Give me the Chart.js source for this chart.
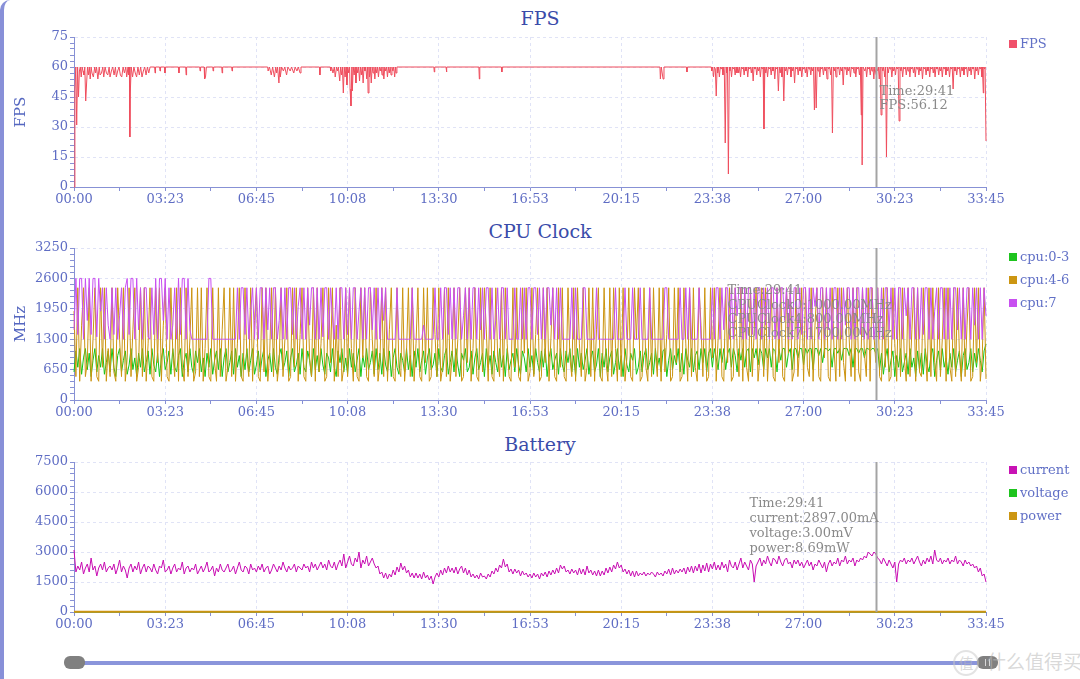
<!DOCTYPE html>
<html>
<head>
<meta charset="UTF-8">
<title>FPS / CPU Clock / Battery</title>
<script src="https://cdn.jsdelivr.net/npm/chart.js"></script>
<style>
    body { margin: 0; background: #fff; }
    #page { position: relative; width: 1080px; height: 679px; overflow: hidden; background: #fff; }
    #edge {
        position: absolute; left: 0; top: 0; width: 1080px; height: 679px;
        box-sizing: border-box; border-left: 4px solid #8890d8; border-top-left-radius: 10px;
    }
    canvas.panel { position: absolute; left: 0; }
    .title {
        position: absolute; left: 0; width: 1080px; text-align: center;
        font: 19px "DejaVu Serif", serif; line-height: 22px; color: #3a4caa;
    }
    .legend { position: absolute; left: 1009px; font: 13px "DejaVu Serif", serif; color: #6170c6; }
    .legend div { height: 23px; line-height: 14px; white-space: nowrap; }
    .legend i { display: inline-block; width: 8px; height: 8px; margin-right: 3px; vertical-align: 0px; }
    #track { position: absolute; left: 75px; top: 661px; width: 910px; height: 4px; background: #8a95db; }
    .handle { position: absolute; top: 656px; width: 21px; height: 13px; border-radius: 6px; background: #808080; }
    .handle b { position: absolute; top: 3px; width: 1px; height: 7px; background: #d8d8d8; }
    #mark { position: absolute; left: 953px; top: 647px; font: 19px "Noto Sans CJK SC", sans-serif; color: rgba(185,185,185,0.55); white-space: nowrap; }
    #mark span { display: inline-block; width: 22px; height: 22px; line-height: 22px; border: 2px solid rgba(200,200,200,0.5); border-radius: 50%; text-align: center; font-size: 15px; margin-right: 8px; }
</style>
</head>
<body>
<div id="page">
    <div id="edge"></div>

    <div class="title" style="top:7px">FPS</div>
    <div class="title" style="top:220px">CPU Clock</div>
    <div class="title" style="top:433px">Battery</div>

    <canvas class="panel" id="fpsChart" width="1080" height="213" style="top:0px"></canvas>
    <canvas class="panel" id="cpuChart" width="1080" height="213" style="top:211px"></canvas>
    <canvas class="panel" id="batteryChart" width="1080" height="213" style="top:425px"></canvas>

    <div class="legend" style="top:37px">
        <div><i style="background:#f0506a"></i>FPS</div>
    </div>
    <div class="legend" style="top:250px">
        <div><i style="background:#1ec41e"></i>cpu:0-3</div>
        <div><i style="background:#cc9612"></i>cpu:4-6</div>
        <div><i style="background:#c850f0"></i>cpu:7</div>
    </div>
    <div class="legend" style="top:463px">
        <div><i style="background:#c812b4"></i>current</div>
        <div><i style="background:#1ec41e"></i>voltage</div>
        <div><i style="background:#cc9612"></i>power</div>
    </div>

    <div id="track"></div>
    <div class="handle" style="left:64px"></div>
    <div class="handle" style="left:977px"><b style="left:8px"></b><b style="left:12px"></b></div>
    <div id="mark"><span>值</span>什么值得买</div>
</div>

<script>
    // ---- data ----
    const xTickLabels = ['00:00', '03:23', '06:45', '10:08', '13:30', '16:53', '20:15', '23:38', '27:00', '30:23', '33:45'];
    const fpsTicks = [0, 15, 30, 45, 60, 75];
    const cpuTicks = [0, 650, 1300, 1950, 2600, 3250];
    const batteryTicks = [0, 1500, 3000, 4500, 6000, 7500];

    const cursorTime = '29:41';
    const fpsReadout = ['Time:29:41', 'FPS:56.12'];
    const cpuReadout = ['Time:29:41', 'CPUClock0:1000.00MHz', 'CPUClock4:800.00MHz', 'CPUClock7:1700.00MHz'];
    const batteryReadout = ['Time:29:41', 'current:2897.00mA', 'voltage:3.00mV', 'power:8.69mW'];

    // [seconds, fps]
    const fpsSamples = [
        [0,0],[2,48],[4,60],[6,31],[8,60],[10,45],[12,58],[14,60],[16,55],[18,60],[20,58],[22,56],[24,60],[26,43],[28,52],[30,60],
        [32,56],[34,60],[36,54],[38,60],[40,57],[43,55],[46,60],[48,57],[50,60],[53,54],[56,60],[58,56],[61,57],[64,60],[66,55],[69,60],
        [72,57],[75,56],[78,60],[80,55],[83,58],[86,60],[89,56],[92,60],[94,55],[97,58],[100,60],[103,56],[106,55],[109,60],[112,57],
        [115,60],[117,55],[120,60],[121,56],[123,60],[124,25],[125,47],[127,60],[130,55],[133,60],[136,57],[139,55],[142,60],[145,56],
        [148,60],[151,55],[154,58],[157,60],[160,56],[163,60],[166,57],[169,60],
        [179,60],[180,57],[181,60],[190,60],[191,58],[192,60],[201,60],[202,57],[203,60],[232,60],[233,57],[234,60],[248,60],[249,56],
        [250,60],[279,60],[280,58],[281,60],[289,60],[290,54],[292,55],[294,60],[308,60],[309,58],[310,60],[328,60],[329,57],[330,60],
        [350,60],[351,58],[352,60],
        [430,60],[431,58],[434,60],[438,56],[441,60],[445,55],[448,60],[450,57],[452,60],[455,52],[457,60],[458,55],[461,60],[465,58],
        [468,60],[472,56],[475,60],[480,58],[483,60],[488,57],[491,60],[495,58],[498,60],[502,57],[504,60],
        [545,60],[546,56],[547,60],[569,60],[570,58],[572,60],[575,57],[578,60],[580,55],[583,60],[585,58],[587,60],[590,53],[592,60],
        [594,56],[596,60],[598,47],[600,60],[602,55],[604,60],[606,51],[608,60],[610,57],[612,60],[613,49],[615,40.5],[617,60],[618,48],
        [620,60],[622,56],[624,60],[626,52],[628,60],[630,57],[632,60],[634,53],[636,60],[638,56],[640,60],[642,52],[644,60],[646,58],
        [648,60],[650,54],[652,60],[653,47],[655,60],[656,55],[658,60],[660,52],[662,60],[664,57],[666,60],[668,54],[670,60],[672,57],
        [674,60],[676,55],[678,60],[680,58],[682,60],[684,56],[686,60],[688,54],[690,60],[692,58],[694,60],[696,55],[698,60],[700,57],
        [702,60],[704,56],[706,60],[708,58],[710,60],[712,55],[714,60],[715,57],[717,60],
        [799,60],[800,57.5],[801,60],[826,60],[827,57.5],[828,60],[899,60],[900,54],[901,60],[949,60],[950,57.5],[951,60],
        [1301,60],[1302,54],[1304,60],[1308,54],[1310,60],[1360,60],[1361,57.5],[1362,60],
        [1415,60],[1416,58],[1418,60],[1420,55],[1422,60],[1424,59],[1426,45.5],[1428,60],[1429,57],[1431,60],[1433,55],[1435,60],
        [1437,59],[1439,60],[1441,56],[1443,60],[1444,58],[1446,22],[1448,60],[1449,57],[1451,60],[1453,6.5],[1455,60],
        [1456,58],[1458,60],[1460,55],[1462,60],[1464,59],[1466,60],[1468,56],[1470,60],[1472,57],[1474,60],[1476,57],[1478,60],
        [1480,55],[1482,60],[1484,59],[1486,60],[1488,56],[1490,60],[1492,58],[1494,60],[1496,55],[1498,60],[1500,59],[1502,60],
        [1504,57],[1506,60],[1508,53],[1510,60],[1512,59],[1514,60],[1516,56],[1518,60],[1520,58],[1522,60],[1524,55],[1526,60],
        [1528,59],[1530,60],[1532,29],[1534,60],[1536,57],[1538,60],[1540,55],[1542,60],[1544,59],[1546,60],[1548,56],[1550,60],
        [1552,58],[1554,60],[1556,54],[1558,60],[1560,59],[1562,60],[1564,48],[1566,60],[1568,57],[1570,60],[1572,55],[1574,60],
        [1576,43],[1578,60],[1580,58],[1582,60],[1584,56],[1586,60],[1588,59],[1590,60],[1592,55],[1594,60],[1596,58],[1598,60],
        [1600,52],[1602,60],[1604,59],[1606,60],[1608,56],[1610,60],[1612,58],[1614,60],[1616,55],[1618,60],[1620,59],[1622,60],
        [1624,57],[1626,60],[1628,55],[1630,60],[1632,59],[1634,60],[1636,56],[1638,60],[1640,58],[1642,60],[1644,38.5],[1646,60],
        [1648,39.5],[1650,60],[1652,58],[1654,60],[1656,55],[1658,60],[1660,59],[1662,60],[1664,56],[1666,60],[1668,58],[1670,60],
        [1672,54],[1674,60],[1676,59],[1678,60],[1680,56],[1682,60],[1684,27],[1686,60],[1688,58],[1690,60],[1692,55],[1694,60],
        [1696,59],[1698,60],[1700,56],[1702,60],[1704,58],[1706,60],[1708,51],[1710,60],[1712,59],[1714,60],[1716,56],[1718,60],
        [1720,58],[1722,60],[1724,55],[1726,60],[1728,59],[1730,60],[1732,57],[1734,60],[1736,55],[1738,60],[1740,59],[1742,60],
        [1744,56],[1746,60],[1748,36],[1749,60],[1750,11],[1752,60],[1756,58],[1758,60],[1760,55],[1762,60],[1764,59],[1766,60],
        [1768,56],[1770,60],[1772,58],[1774,60],[1776,54],[1778,60],[1781,56.12],[1782,60],[1784,58],[1786,60],[1788,54],[1790,60],
        [1792,36],[1794,60],[1796,58],[1798,60],[1800,55],[1802,60],[1804,15],[1806,60],[1808,57],[1810,60],[1812,59],[1814,60],
        [1816,55],[1818,60],[1820,58],[1822,60],[1824,56],[1826,60],[1828,59],[1830,60],[1832,33],[1834,60],[1836,58],[1838,60],
        [1840,55],[1842,60],[1844,59],[1846,60],[1848,56],[1850,60],[1852,58],[1854,60],[1856,55],[1858,60],[1860,59],[1862,60],
        [1864,57],[1866,60],[1868,55],[1870,60],[1872,59],[1874,60],[1876,56],[1878,60],[1880,58],[1882,60],[1884,54],[1886,60],
        [1888,59],[1890,60],[1892,56],[1894,60],[1896,58],[1898,60],[1900,55],[1902,60],[1904,59],[1906,60],[1908,57],[1910,60],
        [1912,55],[1914,60],[1916,59],[1918,60],[1920,56],[1922,60],[1924,58],[1926,60],[1928,55],[1930,60],[1932,59],[1934,60],
        [1936,56],[1938,60],[1940,58],[1942,60],[1944,55],[1946,60],[1948,59],[1950,60],[1952,49],[1954,60],[1956,58],[1958,60],
        [1960,56],[1962,60],[1964,59],[1966,60],[1968,55],[1970,60],[1972,58],[1974,60],[1976,56],[1978,60],[1980,59],[1982,60],
        [1984,55],[1986,60],[1988,58],[1990,60],[1992,56],[1994,60],[1996,59],[1998,60],[2000,54],[2002,60],[2004,58],[2006,60],
        [2008,56],[2010,60],[2012,59],[2014,60],[2016,55],[2017,60],[2019,47],[2020,60],[2022,59],[2023,60],[2025,23]
    ];

    // CPU clocks (MHz), evenly spaced over the whole run
    const cpu03 = [
        600,1050,700,1100,550,900,1100,650,1000,500,850,1100,600,950,700,1100,550,800,1050,600,
        1100,700,500,950,1100,600,850,1050,550,750,1100,650,900,500,1000,700,1100,600,800,1050,
        550,1100,750,600,1000,500,900,1100,650,800,1050,550,1100,700,600,950,1100,500,850,1000,
        600,1100,700,550,1050,800,1100,600,900,500,1000,700,1100,550,850,1050,650,1100,500,900,
        1100,600,800,1050,550,1100,700,950,500,1000,650,1100,600,850,1100,550,750,1050,600,900,
        1100,500,850,1000,600,1100,700,550,950,1100,650,800,1050,500,900,1100,600,750,1000,550,
        1100,700,600,1050,850,500,1100,650,950,600,1100,750,550,1000,900,600,1100,700,500,1050,
        800,1100,600,900,550,1100,700,1000,600,850,1100,500,950,700,1100,650,800,1050,550,1100,
        650,1000,550,1100,750,600,1050,500,900,1100,700,550,1000,850,600,1100,650,950,500,1050,
        700,1100,600,850,1050,550,900,1100,650,750,1000,500,1100,700,600,950,1100,550,800,1050,
        600,1100,750,500,1000,850,1100,600,700,1050,550,900,1100,650,800,1000,500,1100,700,950,
        550,1050,800,600,1100,700,950,500,1100,650,850,1000,600,1100,750,550,1050,900,600,1100,
        700,950,550,1100,800,600,1050,700,1100,500,900,1100,650,850,1000,550,1100,750,600,1050,
        800,1100,600,950,500,1100,700,1000,650,850,1100,550,900,1050,600,750,1100,500,1000,700,
        1100,600,900,1050,550,800,1100,650,950,500,1100,750,600,1000,850,1100,550,700,1050,600,
        950,1100,650,800,1000,550,1100,700,900,600,1050,1100,500,850,1100,650,950,750,1100,600,
        1000,550,1100,850,700,1100,600,950,1050,650,1100,800,1100,600,1000,1100,700,1100,900,650,
        1100,800,1100,650,1000,1100,700,1100,950,600,1100,850,1100,700,1050,1100,600,1100,900,1100,
        750,1100,1000,650,1100,900,1100,700,1100,1050,600,1100,850,1100,1100,700,1000,1100,650,1100,
        1100,900,1100,1100,750,1100,1000,1100,1100,650,1100,1100,950,1100,800,1100,1100,1050,1100,700,
        1100,1100,1000,1100,850,1100,1100,1100,950,1100,700,1100,1100,1000,1100,1100,900,1100,1100,1050,
        1100,1100,1000,1100,650,1000,550,900,1100,600,850,1050,500,950,700,1100,600,800,1000,550,
        1100,700,900,500,1050,650,1000,550,1100,750,600,950,1100,500,850,1050,650,1100,700,900,
        550,1000,700,1100,600,850,1050,500,950,1100,650,800,1100,600,1000,700,1100,850,600,1050,1200
    ];
    const cpu46 = [
        1900,500,2400,400,1600,2400,500,800,2400,400,1300,2400,500,400,2400,700,2400,400,1100,500,
        2400,600,400,2400,1300,500,2400,400,900,2400,500,1500,2400,400,700,2400,500,2400,400,1200,
        2400,500,400,2400,800,2400,400,1600,2400,500,400,2400,1000,500,2400,400,2400,700,400,2400,
        500,1300,2400,400,600,2400,500,2400,400,1100,2400,500,400,2400,800,400,2400,500,1500,2400,
        400,700,2400,500,2400,400,1200,2400,500,400,2400,900,500,2400,400,1700,2400,500,400,2400,
        600,2400,400,1000,2400,500,2400,400,800,2400,500,1300,2400,400,500,2400,700,2400,400,1400,
        2400,500,400,2400,900,500,2400,400,2400,600,1200,2400,400,500,2400,800,2400,400,1600,500,
        2400,400,700,2400,500,2400,1100,400,2400,500,400,2400,900,2400,500,400,2400,1300,500,2400,
        400,800,2400,500,2400,400,1500,2400,500,400,2400,700,500,2400,400,1000,2400,500,2400,400,
        1200,2400,500,400,2400,800,2400,400,500,2400,1400,500,2400,400,700,2400,500,2400,400,900,
        2400,500,1300,2400,400,500,2400,800,2400,400,1100,2400,500,400,2400,600,2400,1500,400,2400,
        500,400,2400,900,500,2400,400,2400,1200,500,400,2400,700,2400,500,400,2400,1000,2400,400,
        600,2400,500,1400,2400,400,500,2400,800,2400,400,1300,2400,500,400,2400,700,2400,500,400,
        2400,900,500,2400,400,2400,1200,500,2400,400,700,2400,500,2400,400,1500,2400,500,400,2400,
        800,400,2400,500,2400,1100,400,2400,500,2400,400,900,2400,500,400,2400,1300,2400,400,500,
        2400,700,400,2400,500,2400,1000,500,2400,400,2400,600,1400,2400,400,500,2400,800,2400,400,
        500,2400,1200,400,2400,500,2400,700,400,2400,1600,500,2400,400,500,2400,900,2400,400,1300,
        2400,500,400,2400,800,2400,400,500,2400,1100,500,2400,400,2400,700,400,2400,500,1500,2400,
        400,900,2400,500,2400,400,1300,2400,500,400,2400,800,2400,500,400,2400,1000,2400,400,600,
        2400,500,1200,2400,400,2400,700,500,2400,400,1600,2400,500,400,2400,900,2400,500,400,2400,
        1100,400,2400,500,2400,800,400,2400,1300,500,2400,400,2400,600,400,2400,1000,500,2400,400,
        2400,1400,800,2400,500,400,2400,700,2400,400,500,2400,1200,400,2400,500,2400,900,400,2400,
        500,1500,2400,400,2400,600,500,2400,1100,400,2400,500,2400,800,400,2400,500,1300,2400,400,
        2400,700,400,2400,500,2400,1000,400,2400,500,1600,2400,400,500,2400,800,2400,400,900,2400,450
    ];
    const cpu7 = [
        1500,2600,1400,2600,2600,1300,2600,1700,2600,1400,2600,2600,1350,2600,1900,2400,1300,2400,1600,1300,
        2400,1400,2400,1300,1800,2400,1300,2400,2600,1400,2600,2600,1300,2600,1500,2400,1300,2400,2400,1350,
        1300,2400,1400,2600,1300,2600,2600,1700,2600,1300,2400,1300,1600,2400,1300,2600,1400,2600,2600,1300,
        2600,1500,1300,1300,1300,1300,1300,1300,1300,1300,1300,2600,2600,1300,1300,1300,1300,1300,1300,1300,
        1300,1300,1300,1300,1300,1300,2400,1300,2400,2400,1400,2400,1300,1900,2400,1300,2400,1300,2400,2400,
        1300,2400,1500,2400,1300,2400,2400,1300,1700,2400,1300,2400,1300,2400,2400,1400,2400,1300,2000,2400,
        1300,2400,1300,2400,1600,2400,2400,1300,2400,1300,2400,1350,2400,2400,1300,2400,1800,1300,2400,1300,
        2400,2400,1300,2400,1400,2400,1300,2400,2400,1300,1900,2400,1300,2400,1300,2400,2400,1500,2400,1300,
        2400,1300,2400,1700,2400,1300,1300,1300,1300,1300,2400,1300,1300,1300,1300,1300,1300,1300,2400,1300,
        1300,1300,1300,1300,1600,1300,1300,1300,1300,1300,2400,1300,1300,2400,1300,2400,2400,1400,2400,1300,
        2400,1300,2400,2400,1300,1800,2400,1300,2400,1300,2400,2400,1300,2400,1500,2400,1300,2400,2400,1300,
        2400,1300,1700,2400,1300,2400,2400,1300,2400,1300,1300,1300,2400,1300,1300,2400,1300,2400,1300,2400,
        2400,1300,2400,2400,1400,2400,1300,2400,1300,2400,2400,1600,2400,1300,2400,1300,2400,1300,1300,1300,
        1300,1300,2400,1300,2400,1300,1300,1300,2400,2400,1300,1300,1300,1300,1300,2400,1300,1300,1300,1300,
        1300,1300,1300,1300,1300,2400,1300,1300,1300,1300,2400,1300,1300,1300,2400,1300,1300,1300,2400,1300,
        1300,1300,1300,2400,1300,1300,1300,1300,1300,1300,1300,2400,2400,1300,1300,1300,1300,1300,1300,2400,
        1300,1300,2400,1300,2400,1300,1300,1300,1300,2400,1300,1300,1300,1300,1300,1300,2400,1300,2400,2400,
        1300,2400,1500,2400,2400,1300,2400,1300,2400,1800,2400,2400,1300,2400,1300,2400,2400,1400,2400,1300,
        2400,2400,1300,2400,1600,2400,1300,2400,2400,1300,2400,1300,2400,2400,1700,2400,1300,2400,1300,2400,
        2400,1300,2400,1400,2400,2400,1300,2400,1300,2400,2000,2400,1300,2400,2400,1300,2400,1500,2400,1300,
        2400,2400,1300,2400,1300,2400,1600,2400,2400,1300,2400,1300,2400,2400,1400,2400,1300,2400,1300,2400,
        2400,1300,1700,2400,1300,2400,1300,2400,2400,1500,2400,1300,2400,1300,2400,2400,1300,2400,1800,2400,
        1300,2400,2400,1300,2400,1300,2400,1400,2400,2400,1300,2400,1300,1900,2400,1300,2400,2400,1300,2400,
        1300,2400,1300,2400,2400,1500,2400,1300,2400,1300,2400,2400,1300,2400,1600,2400,1300,2400,1300,2400,1800
    ];

    // battery current (mA), evenly spaced over the whole run
    const batteryCurrent = [
        3100,2000,2300,2100,2500,1900,2200,2400,2000,2700,2100,2300,1800,2200,2400,2100,2500,2000,2200,2300,
        2100,2400,1900,2200,2600,2000,2300,2100,1700,2200,2400,2000,2300,2100,2500,1900,2200,2400,2000,2300,
        2200,2000,2400,2100,1900,2300,2200,2600,2000,2100,2300,1900,2200,2400,2000,2200,2100,2500,1900,2200,
        2300,2000,2200,2100,2400,1900,2100,2300,2000,2200,2500,2000,2100,2300,1800,2200,2000,2400,2100,2000,
        2200,2400,2000,2100,2300,1900,2200,2500,2100,2000,2300,2200,1900,2400,2100,2200,2000,2300,2100,2400,
        2000,2200,2300,1900,2100,2400,2200,2000,2300,2100,2500,2200,2000,2300,2100,2200,2400,2000,2300,2200,
        2100,2400,2200,2300,2000,2500,2200,2400,2100,2300,2500,2200,2400,2100,2600,2300,2200,2500,2100,2400,
        2600,2300,2900,2200,2500,2800,2400,2300,2700,2500,3000,2200,2600,2400,2800,2300,2500,2700,2400,2200,
        2300,1900,2000,1700,1950,1650,1900,1750,2100,1850,2250,2000,2450,2100,2300,1950,2100,1750,1950,1700,
        1950,1700,1900,1650,2000,1700,1850,1600,1800,1400,1750,1950,1750,2100,1850,2200,1950,2300,2000,2200,
        1950,2250,1900,2150,2300,1950,2200,1850,2100,1750,1900,1700,1850,1650,1950,1750,1800,1650,1900,1750,
        2050,1900,2200,2000,2350,2200,2650,2250,2400,2000,2150,1900,2150,1950,2100,1800,2050,1850,1950,1750,
        1900,1700,1950,1750,1900,1650,1950,1800,2000,1750,2050,1850,2100,1900,2200,1950,2350,2150,2300,2000,
        2100,1900,2150,1950,2100,1850,2200,1900,2150,1850,2300,1950,2100,1850,2050,1800,2100,1800,2050,1850,
        2200,1950,2250,2000,2350,2150,2500,2200,2350,2000,2150,1900,2100,1800,2050,1750,2050,1800,1950,1850,
        2000,1800,1950,1850,2000,1900,1750,2000,1850,1950,1800,2050,1900,2150,1850,2200,1900,2100,1950,2150,
        2000,2200,1900,2250,2000,2300,1950,2300,2050,2400,1950,2350,2050,2450,2000,2400,2150,2500,2100,2350,
        2100,2500,2200,2400,2000,2600,2300,2200,2500,2100,2400,2700,2200,2500,2300,2100,2600,2400,1500,2300,
        2500,2700,2300,2600,2400,2800,2500,2300,2700,2600,2400,2800,2500,2300,2600,2700,2400,2500,2200,2600,
        2400,2600,2300,2500,2200,2400,2600,2300,2500,2100,2400,2300,2600,2400,2200,2500,2000,2400,2600,2300,
        2500,2400,2700,2300,2600,2500,2800,2400,2600,2500,2700,2300,2600,2500,2700,2600,2800,2700,3000,2900,
        2800,3000,2900,2700,2600,2400,2700,2500,2300,2600,2400,2200,2500,1500,2400,2600,2500,2700,2400,2600,
        2500,2700,2400,2600,2800,2500,2300,2600,2400,2700,2500,2800,2400,3100,2600,2500,2700,2400,2600,2500,
        2700,2400,2600,2500,2800,2400,2600,2500,2300,2600,2400,2500,2300,2400,2200,2300,2000,2200,1800,1900,1500
    ];
    // voltage (mV) and power (mW), read at each axis label
    const batteryVoltage = [3.00, 3.00, 3.00, 3.00, 3.00, 3.00, 3.00, 3.00, 3.00, 3.00, 3.00];
    const batteryPower = [7.1, 6.6, 6.8, 6.5, 6.9, 6.3, 6.0, 6.4, 7.5, 8.6, 7.2];

    // ---- helpers ----
    const tickColor = '#5f6dc4';
    const axisColor = '#8791d5';
    const gridColor = '#e0e3f6';
    const clear = 'rgba(0,0,0,0)';

    Chart.defaults.font.family = '"DejaVu Serif", serif';
    Chart.defaults.font.size = 13;

    function toSeconds(label) {
        const [m, s] = label.split(':').map(Number);
        return m * 60 + s;
    }
    const totalSeconds = toSeconds(xTickLabels[xTickLabels.length - 1]);

    function evenPoints(values) {
        const dt = totalSeconds / (values.length - 1);
        return values.map((v, i) => ({ x: i * dt, y: v }));
    }

    function xAxis() {
        return {
            type: 'linear',
            min: 0,
            max: totalSeconds,
            afterBuildTicks: s => {
                // labelled ticks plus one unlabelled tick half way between them
                const n = (xTickLabels.length - 1) * 2;
                s.ticks = [];
                for (let k = 0; k <= n; k++) s.ticks.push({ value: k * totalSeconds / n });
            },
            afterFit: s => { s.height = 24; },
            ticks: {
                autoSkip: false, maxRotation: 0, padding: 1, color: tickColor,
                callback: (v, i) => (i % 2 ? '' : xTickLabels[i / 2])
            },
            grid: { color: c => (c.index % 2 ? clear : gridColor), tickColor: axisColor, tickLength: 4 },
            border: { color: axisColor, dash: [3, 3] }
        };
    }

    function yAxis(ticks, title) {
        const major = ticks[1];
        const minor = major / 5;
        const max = ticks[ticks.length - 1];
        return {
            min: 0,
            max: max,
            afterBuildTicks: s => {
                s.ticks = [];
                for (let k = 0; k * minor <= max + 0.001; k++) s.ticks.push({ value: k * minor });
            },
            afterFit: s => { s.width = 74; },
            ticks: {
                autoSkip: false, padding: 2, color: tickColor,
                callback: (v, i) => (i % 5 ? '' : String(v))
            },
            grid: { color: c => (c.index % 5 ? clear : gridColor), tickColor: axisColor, tickLength: 4 },
            border: { color: axisColor, dash: [3, 3] },
            title: {
                display: !!title, text: title || '', color: '#5567c0',
                font: { size: 15 }, padding: { top: 12, bottom: 0 }
            }
        };
    }

    // grey marker line with the value read-out next to it
    const cursorPlugin = {
        id: 'cursor',
        afterDatasetsDraw(chart, args, opts) {
            const { ctx, chartArea, scales } = chart;
            const x = Math.round(scales.x.getPixelForValue(toSeconds(cursorTime))) + 0.5;
            ctx.save();
            ctx.strokeStyle = '#a4a4a4';
            ctx.lineWidth = 2;
            ctx.beginPath();
            ctx.moveTo(x, chartArea.top);
            ctx.lineTo(x, chartArea.bottom);
            ctx.stroke();
            ctx.fillStyle = '#8a8a8a';
            ctx.font = '13px "DejaVu Serif", serif';
            ctx.textBaseline = 'middle';
            opts.lines.forEach((t, i) => ctx.fillText(t, x + opts.dx, chartArea.top + opts.dy + i * opts.gap));
            ctx.restore();
        }
    };

    function lineSet(label, data, color, order, width) {
        return {
            label: label, data: data, borderColor: color, backgroundColor: color,
            borderWidth: width || 1, pointRadius: 0, tension: 0, order: order, clip: 4
        };
    }

    function makeChart(id, datasets, ticks, title, padBottom, readout) {
        return new Chart(document.getElementById(id), {
            type: 'line',
            data: { datasets: datasets },
            options: {
                responsive: false,
                devicePixelRatio: 1,
                animation: false,
                events: [],
                layout: { padding: { top: 37, right: 94, bottom: padBottom, left: 0 } },
                scales: { x: xAxis(), y: yAxis(ticks, title) },
                plugins: {
                    legend: { display: false },
                    tooltip: { enabled: false },
                    cursor: readout
                }
            },
            plugins: [cursorPlugin]
        });
    }

    makeChart('fpsChart', [
        lineSet('FPS', fpsSamples.map(([t, v]) => ({ x: t, y: v })), '#ef4d5d', 0)
    ], fpsTicks, 'FPS', 2, { lines: fpsReadout, dx: 3, dy: 55, gap: 14 });

    makeChart('cpuChart', [
        lineSet('cpu:0-3', evenPoints(cpu03), '#14c414', 2),
        lineSet('cpu:4-6', evenPoints(cpu46), '#cc9410', 1),
        lineSet('cpu:7', evenPoints(cpu7), '#c84ef0', 0)
    ], cpuTicks, 'MHz', 0, { lines: cpuReadout, dx: -149, dy: 43, gap: 14.3 });

    makeChart('batteryChart', [
        lineSet('current', evenPoints(batteryCurrent), '#c80cb2', 2),
        lineSet('voltage', evenPoints(batteryVoltage), '#14c414', 1),
        lineSet('power', evenPoints(batteryPower), '#cc9410', 0, 2)
    ], batteryTicks, '', 2, { lines: batteryReadout, dx: -127, dy: 42, gap: 14.8 });
</script>
</body>
</html>
